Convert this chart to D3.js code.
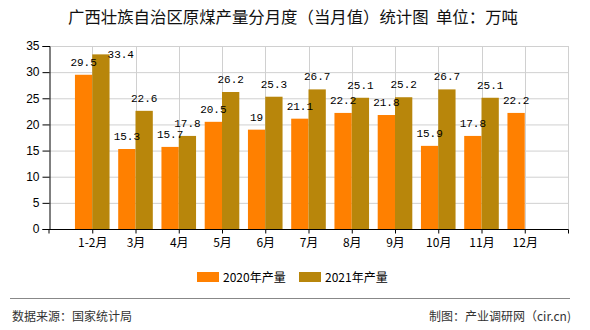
<!DOCTYPE html>
<html><head><meta charset="utf-8">
<script src="https://cdn.jsdelivr.net/npm/d3@7"></script>
<style>body{margin:0;background:#fff;}svg{display:block;}</style>
</head><body>
<svg id="c" width="590" height="330"></svg>
<script>
const categories = ["1-2月","3月","4月","5月","6月","7月","8月","9月","10月","11月","12月"];
const values2020 = [29.5,15.3,15.7,20.5,19,21.1,22.2,21.8,15.9,17.8,22.2];
const values2021 = [33.4,22.6,17.8,26.2,25.3,26.7,25.1,25.2,26.7,25.1,null];
const seriesNames = ["2020年产量","2021年产量"];
const yTicks = [0,5,10,15,20,25,30,35];
const title = "广西壮族自治区原煤产量分月度（当月值）统计图\u00a0\u00a0单位：万吨";
const sourceText = "数据来源：国家统计局";
const creditText = "制图：产业调研网（cir.cn)";

const colors = ["#FF8000","#B8860B"];
const svg = d3.select("#c");
const L = 49, R = 568, T = 46, B = 229;
const x = d3.scalePoint().domain(categories).range([L, R]).padding(1);
const y = d3.scaleLinear().domain([0,35]).range([B, T]);
const bw = 17.3;
const sans = "'Noto Sans CJK SC','Microsoft YaHei',sans-serif";

// title
svg.append("text").attr("x", 293).attr("y", 23).attr("text-anchor","middle")
  .attr("font-family", sans).attr("font-size", 16.4).attr("fill","#111").text(title);

// grid
const g = svg.append("g");
g.selectAll(".hg").data(yTicks.filter(d=>d>0)).join("line")
  .attr("x1", L).attr("x2", R).attr("y1", d=>y(d)+0.5).attr("y2", d=>y(d)+0.5)
  .attr("stroke","#d0d0d0").attr("stroke-width",1);
g.selectAll(".vg").data(categories).join("line")
  .attr("x1", d=>Math.round(x(d))+0.5).attr("x2", d=>Math.round(x(d))+0.5).attr("y1", T).attr("y2", B)
  .attr("stroke","#d0d0d0");
g.append("line").attr("x1",R+0.5).attr("x2",R+0.5).attr("y1",T).attr("y2",B).attr("stroke","#d0d0d0");

// bars
const seriesData = [values2020, values2021];
seriesData.forEach((vals, si) => {
  svg.append("g").selectAll("rect").data(categories.map((c,i)=>({c, v: vals[i]})).filter(d=>d.v!=null))
    .join("rect")
    .attr("x", d => x(d.c) + (si===0 ? -bw : 0))
    .attr("y", d => y(d.v))
    .attr("width", bw)
    .attr("height", d => B - y(d.v))
    .attr("fill", colors[si]);
});

// axes
const yAxis = svg.append("g").attr("transform", `translate(${L+0.5},0)`)
  .call(d3.axisLeft(y).tickValues(yTicks).tickSize(7).tickPadding(3));
yAxis.select(".domain").attr("stroke","#000");
yAxis.selectAll("text").attr("font-family","'Liberation Sans',Arial,sans-serif").attr("font-size",12).attr("fill","#000");

const xAxis = svg.append("g").attr("transform", `translate(0,${B+0.5})`)
  .call(d3.axisBottom(x).tickSize(4).tickPadding(5).tickSizeOuter(4));
xAxis.select(".domain").attr("stroke","#000").attr("d", `M${L},4V0H${R+0.5}V4`);
xAxis.selectAll("text").attr("font-family", sans).attr("font-size",12).attr("fill","#000");
xAxis.selectAll(".tick line").attr("stroke","#000");

// value labels
const lab = svg.append("g").attr("font-family","'Liberation Mono','DejaVu Sans Mono',monospace").attr("font-size",11).attr("fill","#000");
seriesData.forEach((vals, si) => {
  categories.forEach((c,i) => {
    const v = vals[i]; if (v==null) return;
    const cx = x(c) + (si===0 ? -bw/2 : bw/2);
    const top = y(v);
    if (top - 9 < T + 6) {
      lab.append("text").attr("x", x(c) + (si===0?0:bw) - 2).attr("y", top + 4)
        .attr("text-anchor","start").text(String(v));
    } else {
      lab.append("text").attr("x", cx).attr("y", top - 9).attr("text-anchor","middle").text(String(v));
    }
  });
});

// legend
const lg = svg.append("g");
const legendX = [197, 299];
seriesNames.forEach((n,i) => {
  lg.append("rect").attr("x", legendX[i]).attr("y", 272).attr("width", 22).attr("height", 10).attr("fill", colors[i]);
  lg.append("text").attr("x", legendX[i]+26).attr("y", 281.5).attr("font-family", sans).attr("font-size",12).attr("fill","#000").text(n);
});

// footer
svg.append("line").attr("x1",10).attr("x2",570).attr("y1",298.5).attr("y2",298.5).attr("stroke","#888").attr("stroke-width",1);
svg.append("text").attr("x",12).attr("y",320.5).attr("font-family",sans).attr("font-size",12).attr("fill","#333").text(sourceText);
svg.append("text").attr("x",571).attr("y",320.5).attr("text-anchor","end").attr("font-family",sans).attr("font-size",12).attr("fill","#333").text(creditText);
</script>
</body></html>
